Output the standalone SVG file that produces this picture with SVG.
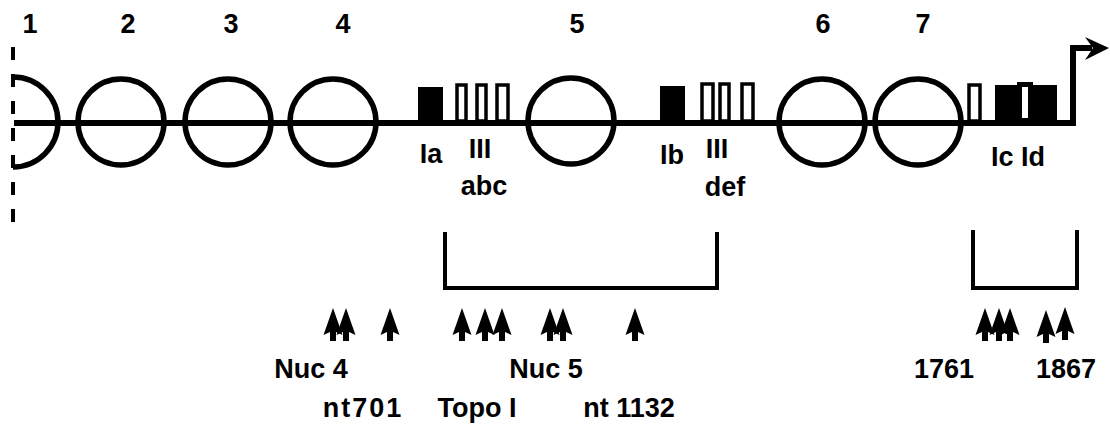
<svg xmlns="http://www.w3.org/2000/svg" xmlns:xlink="http://www.w3.org/1999/xlink" width="1110" height="428" viewBox="0 0 1110 428">
<style>
  .t { font-family: "Liberation Sans", Arial, Helvetica, sans-serif; font-weight: bold; font-size: 27px; fill: #000; text-anchor: middle; }
  .ln { fill: none; stroke: #000; stroke-width: 6; }
  .nuc { fill: none; stroke: #000; stroke-width: 5.5; }
  .box { fill: #fff; stroke: #000; stroke-width: 3.5; }
  .fill { fill: #000; }
  .br { fill: none; stroke: #000; stroke-width: 4; }
</style>
<defs>
  <path id="arr" d="M0,0 L9.5,27 L3,24 L3,33 L-3,33 L-3,24 L-9.5,27 Z" fill="#000"/>
</defs>
<rect width="1110" height="428" fill="#fff"/>

<g id="dna">
  <line x1="13" y1="47" x2="13" y2="226" stroke="#000" stroke-width="4" stroke-dasharray="13 14"/>
  <path class="ln" d="M14,123 H1073 V48 H1092"/>
  <path d="M1109,48 L1085,37 L1093,48 L1085,60 Z" fill="#000"/>
</g>

<g id="nuc1"><path class="nuc" d="M13,77 A45,45 0 0 1 13,167"/><text class="t" x="30" y="33">1</text></g>
<g id="nuc2"><circle class="nuc" cx="121" cy="122" r="43"/><text class="t" x="128" y="33">2</text></g>
<g id="nuc3"><circle class="nuc" cx="228" cy="122" r="43"/><text class="t" x="231" y="33">3</text></g>
<g id="nuc4"><circle class="nuc" cx="333" cy="122" r="43"/><text class="t" x="343" y="33">4</text></g>
<g id="nuc5"><circle class="nuc" cx="571" cy="121" r="43"/><text class="t" x="577" y="33">5</text></g>
<g id="nuc6"><circle class="nuc" cx="822" cy="122" r="43"/><text class="t" x="823" y="33">6</text></g>
<g id="nuc7"><circle class="nuc" cx="918" cy="122" r="43"/><text class="t" x="923" y="33">7</text></g>

<g id="siteIa">
  <rect class="fill" x="418" y="87" width="25" height="36"/>
  <text class="t" x="431" y="163">Ia</text>
</g>
<g id="siteIIIabc">
  <rect class="box" x="457" y="85" width="9" height="36"/>
  <rect class="box" x="477" y="85" width="9" height="36"/>
  <rect class="box" x="497" y="85" width="11" height="36"/>
  <text class="t" x="480" y="158">III</text>
  <text class="t" x="484" y="195">abc</text>
</g>
<g id="siteIb">
  <rect class="fill" x="660" y="86" width="25" height="37"/>
  <text class="t" x="672" y="164">Ib</text>
</g>
<g id="siteIIIdef">
  <rect class="box" x="702" y="84" width="11" height="37"/>
  <rect class="box" x="720" y="84" width="9" height="37"/>
  <rect class="box" x="742" y="84" width="11" height="37"/>
  <text class="t" x="717" y="158">III</text>
  <text class="t" x="725" y="196">def</text>
</g>
<g id="siteIcId">
  <rect class="box" x="969" y="85" width="11" height="36"/>
  <rect class="fill" x="995" y="85" width="62" height="38"/>
  <rect x="1019.5" y="84.5" width="11" height="36" fill="#fff" stroke="#000" stroke-width="5"/>
  <text class="t" x="1018" y="166">Ic Id</text>
</g>

<g id="bracket1"><path class="br" d="M445,232 V288 H717 V232"/></g>
<g id="bracket2"><path class="br" d="M973,230 V288 H1077 V230"/></g>

<g id="connectors">
  <use xlink:href="#arr" x="333" y="308"/>
  <use xlink:href="#arr" x="346" y="308"/>
  <use xlink:href="#arr" x="390" y="308"/>
  <use xlink:href="#arr" x="462" y="308"/>
  <use xlink:href="#arr" x="485" y="308"/>
  <use xlink:href="#arr" x="502" y="308"/>
  <use xlink:href="#arr" x="550" y="308"/>
  <use xlink:href="#arr" x="563" y="308"/>
  <use xlink:href="#arr" x="635" y="308"/>
  <use xlink:href="#arr" x="985" y="308"/>
  <use xlink:href="#arr" x="999" y="308"/>
  <use xlink:href="#arr" x="1010" y="308"/>
  <use xlink:href="#arr" x="1046" y="310"/>
  <use xlink:href="#arr" x="1065" y="307"/>
</g>

<g id="labels">
  <text class="t" x="311" y="378">Nuc 4</text>
  <text class="t" x="546" y="378">Nuc 5</text>
  <text class="t" x="944" y="378">1761</text>
  <text class="t" x="1066" y="378">1867</text>
  <text class="t" x="363" y="417" letter-spacing="2">nt701</text>
  <text class="t" x="477" y="417">Topo I</text>
  <text class="t" x="629" y="417">nt 1132</text>
</g>
</svg>
